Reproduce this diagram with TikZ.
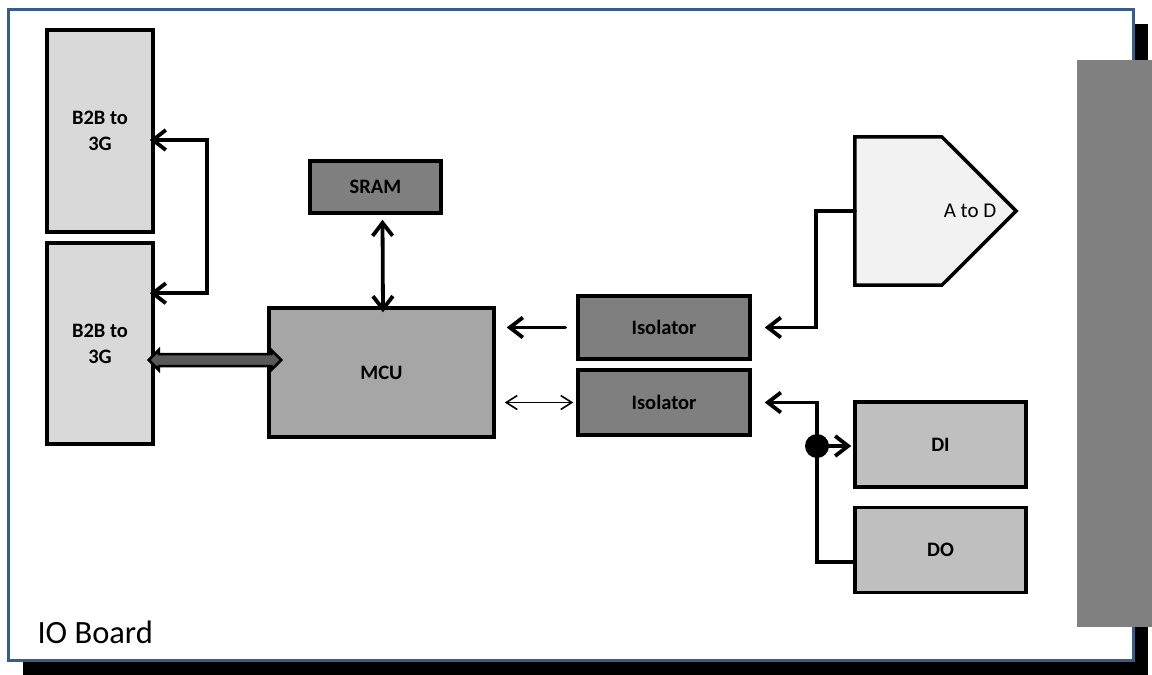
\documentclass[tikz,border=0pt]{standalone}
\usepackage{fontspec}
\setmainfont{Carlito}
\usetikzlibrary{arrows.meta,calc}
\definecolor{boardblue}{RGB}{56,93,138}
\definecolor{barfill}{RGB}{128,128,128}
\definecolor{lightbox}{RGB}{217,217,217}
\definecolor{darkbox}{RGB}{127,127,127}
\definecolor{midbox}{RGB}{166,166,166}
\definecolor{diobox}{RGB}{191,191,191}
\definecolor{adbox}{RGB}{242,242,242}
\definecolor{fatfill}{RGB}{89,89,89}
\tikzset{
  myv/.tip={Straight Barb[length=13pt,width=20pt]},
  myvs/.tip={Straight Barb[length=11pt,width=14pt]},
  box/.style={draw=black, line width=3.5pt, inner sep=0pt, align=center,
              font=\fontsize{20.5}{26}\selectfont\bfseries},
  conn/.style={line width=3.8pt, draw=black, line cap=round, line join=miter},
  thinconn/.style={line width=1.6pt, draw=black},
}
\begin{document}
\begin{tikzpicture}[x=1pt,y=-1pt]
\useasboundingbox (0,0) rectangle (1152,675);
% board with shadow
\fill[black] (23,24) rectangle (1148,675);
\draw[boardblue, line width=3pt, fill=white] (8,9) rectangle (1133,660);
\fill[barfill] (1077,60) rectangle (1152,627);
\node[anchor=base west, font=\fontsize{32.5}{38}\selectfont] (label) at (34,643) {IO Board};

% boxes
\node[box, fill=lightbox, minimum width=106pt, minimum height=202pt] (b2b1) at (100,131) {B2B to\\3G};
\node[box, fill=lightbox, minimum width=106pt, minimum height=201pt] (b2b2) at (100,343.5) {B2B to\\3G};
\node[box, fill=darkbox, minimum width=131pt, minimum height=52pt] (sram) at (375.5,187) {SRAM};
\node[box, fill=midbox, minimum width=225pt, minimum height=129pt] (mcu) at (381.5,372.5) {MCU};
\node[box, fill=darkbox, minimum width=172pt, minimum height=63pt] (iso1) at (664,327.5) {Isolator};
\node[box, fill=darkbox, minimum width=172pt, minimum height=65pt] (iso2) at (664,402.5) {Isolator};
\node[box, fill=diobox, minimum width=171pt, minimum height=85pt] (di) at (940.5,444.5) {DI};
\node[box, fill=diobox, minimum width=171pt, minimum height=85pt] (dout) at (940.5,550) {DO};

% A to D pentagon
\node[minimum width=161pt, minimum height=148pt, inner sep=0pt] (ad) at (935.5,211) {};
\draw[line width=3.5pt, fill=adbox, line join=miter]
  (ad.north west) -- ($(ad.north west)+(87,0)$) -- (ad.east)
  -- ($(ad.south west)+(87,0)$) -- (ad.south west) -- cycle;
\node[font=\fontsize{21}{25}\selectfont] (adtext) at (970,211) {A to D};

% connectors
\draw[conn, myv-myv] ($(b2b1.east)+(-5,9)$) -- ++(57,0) |- ($(b2b2.north east)+(-5,52)$);
\draw[conn, myv-myv] ($(sram.south)+(7,5)$) -- ($(mcu.north)+(1.5,6)$);
\draw[conn, -myv] ($(iso1.west)+(-11,0)$) -- ($(mcu.east |- iso1.west)+(11,0)$);
\draw[thinconn, myvs-myvs] ($(mcu.east |- iso2.west)+(9,0)$) -- ($(iso2.west)+(-3,0)$);
\draw[conn, -myv] (ad.west) -- ++(-39,0) |- ($(iso1.east)+(13,0)$);
\coordinate (jn) at (817,446);
\draw[conn, myv-] ($(iso2.east)+(13,0)$) -| (jn) |- ($(dout.west)+(0,12)$);
\draw[conn, -myv] (jn) -- ($(di.west |- jn)+(-2,0)$);
\fill[black] (jn) circle (12pt);

% fat double arrow
\coordinate (fa1) at ($(b2b2.east)+(-6,16.5)$);
\coordinate (fa2) at ($(mcu.west)+(14,-12.5)$);
\draw[fill=fatfill, line width=2.5pt, line join=miter]
  (fa1) -- ($(fa1)+(10,-10)$) -- ($(fa1)+(10,-6)$) -- ($(fa2)+(-10,-6)$)
  -- ($(fa2)+(-10,-10)$) -- (fa2) -- ($(fa2)+(-10,10)$) -- ($(fa2)+(-10,6)$)
  -- ($(fa1)+(10,6)$) -- ($(fa1)+(10,10)$) -- cycle;
\end{tikzpicture}
\end{document}
